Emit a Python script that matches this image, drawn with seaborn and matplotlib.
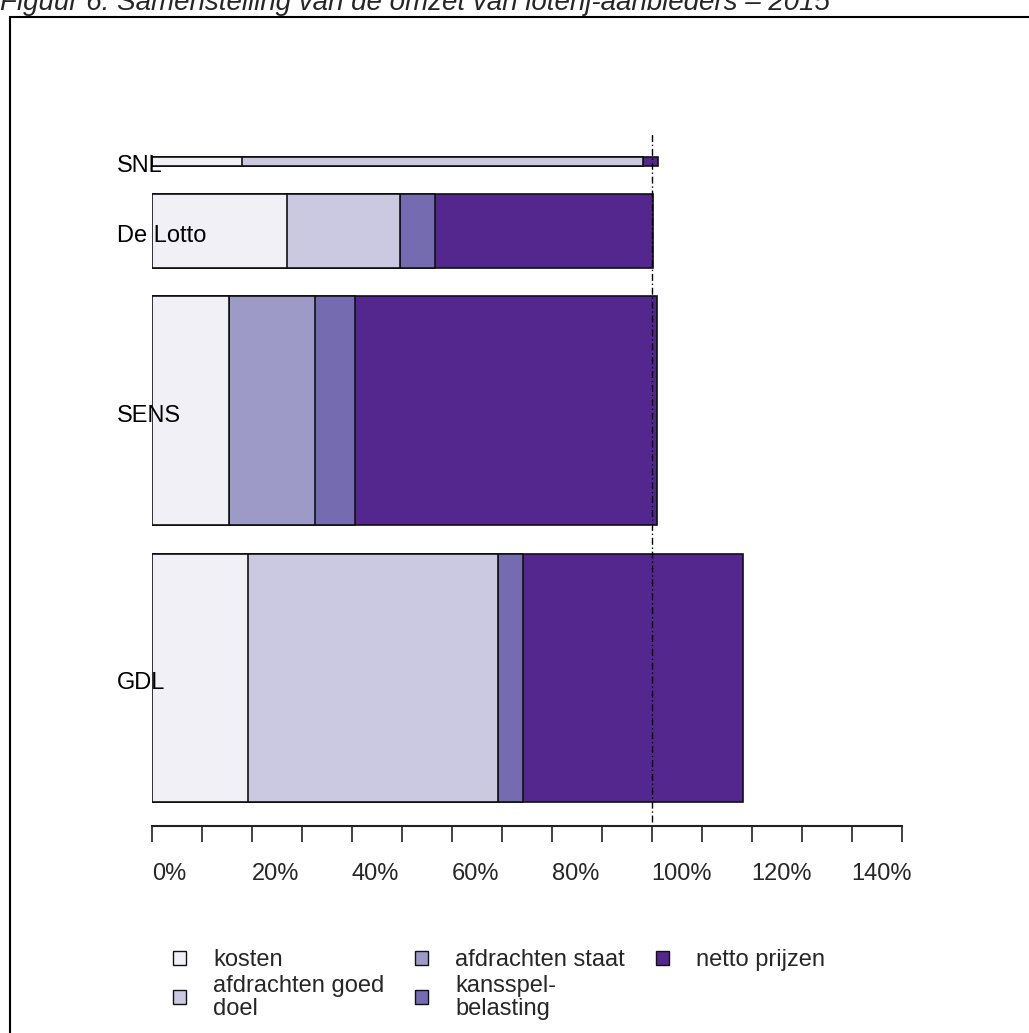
import matplotlib
matplotlib.use("Agg")
import matplotlib.pyplot as plt
import seaborn as sns
import numpy as np
import pandas as pd
from matplotlib.patches import Patch, Rectangle

# ---------------- data ----------------
companies = ["SNL", "De Lotto", "SENS", "GDL"]
omzet_rel = [8.4, 74.0, 229.0, 248.0]          # relative bar thickness (turnover)
components = ["kosten", "afdrachten goed doel", "afdrachten staat",
              "kansspelbelasting", "netto prijzen"]
legend_labels = ["kosten", "afdrachten goed\ndoel", "afdrachten staat",
                 "kansspel-\nbelasting", "netto prijzen"]
kosten = [18.0, 27.1, 15.5, 19.2]
goed_doel = [80.3, 22.6, 0.0, 50.1]
staat = [0.0, 0.0, 17.2, 0.0]
kansspel = [0.0, 6.9, 7.9, 5.0]
netto = [3.0, 43.6, 60.5, 43.9]
xtick_vals = list(range(0, 151, 10))
xtick_labels = ["0%", "", "20%", "", "40%", "", "60%", "", "80%", "",
                "100%", "", "120%", "", "140%", ""]
reference_line = 100
title = "Figuur 6: Samenstelling van de omzet van loterij-aanbieders \u2013 2015"
colors = ["#f2f0f7", "#cbc9e2", "#9e9ac8", "#756bb1", "#54278f"]

# ---------------- style ----------------
sns.set_style("white")
plt.rcParams["font.family"] = ["Liberation Sans", "DejaVu Sans"]
FS = 17

W, H = 1029, 1033
fig = plt.figure(figsize=(W / 100, H / 100), dpi=100)
ax_top_px, ax_bot_px = 140.0, 825.7
ax = fig.add_axes([151.7 / W, 1 - ax_bot_px / H, 750.0 / W, (ax_bot_px - ax_top_px) / H])

values = np.array([kosten, goed_doel, staat, kansspel, netto])  # comp x company
cum = np.cumsum(values, axis=0)

top0, gap = 17.3, 28.3
tops = top0 + np.concatenate([[0], np.cumsum(np.array(omzet_rel[:-1]) + gap)])
centers = tops + np.array(omzet_rel) / 2

for i, comp in enumerate(companies):
    for j in reversed(range(len(components))):
        df = pd.DataFrame({"x": [cum[j, i]], "y": [centers[i]]})
        sns.barplot(data=df, x="x", y="y", orient="h", native_scale=True,
                    width=omzet_rel[i], color=colors[j], saturation=1,
                    edgecolor="#111111", linewidth=1.2, errorbar=None, ax=ax)

ax.set_xlim(0, 150)
ax.set_ylim(ax_bot_px - ax_top_px, 0)
ax.set_xlabel("")
ax.set_ylabel("")
ax.set_yticks([])
for s in ["top", "left", "right"]:
    ax.spines[s].set_visible(False)
ax.spines["bottom"].set_color("#222222")
ax.spines["bottom"].set_linewidth(1.5)
ax.set_xticks(xtick_vals)
ax.set_xticklabels(xtick_labels, fontsize=FS, ha="left")
ax.tick_params(axis="x", direction="out", length=11.5, width=1.2, color="#222222",
               pad=15.5, bottom=True)

for i, comp in enumerate(companies):
    ax.text(-6.9, centers[i] + 5, comp, ha="left", va="center", fontsize=FS,
            color="black", zorder=5)

ax.axvline(reference_line, ymin=0.005, ymax=(ax_bot_px - ax_top_px + 7) / (ax_bot_px - ax_top_px),
           clip_on=False, color="black", lw=1.0, linestyle=(0, (5, 2, 1, 2)), zorder=6)

handles = [Patch(facecolor=c, edgecolor="#111111", linewidth=1.0) for c in colors]
leg = fig.legend(handles, legend_labels, ncol=3, loc="upper left",
                 bbox_to_anchor=(152 / W, 1 - 928 / H), frameon=False,
                 fontsize=FS, handlelength=0.55, handleheight=0.55,
                 handletextpad=1.15, columnspacing=1.3, labelspacing=0.15)
for t in leg.get_texts():
    t.set_linespacing(1.05)

fig.add_artist(Rectangle((10 / W, -0.1), 1.2, 1 - 17 / H + 0.1, transform=fig.transFigure,
                         fill=False, edgecolor="black", linewidth=1.5))
fig.text(0.0, 1 - 10 / H, title, ha="left", va="baseline", fontsize=20, style="italic")

fig.savefig("out.png", dpi=100)
